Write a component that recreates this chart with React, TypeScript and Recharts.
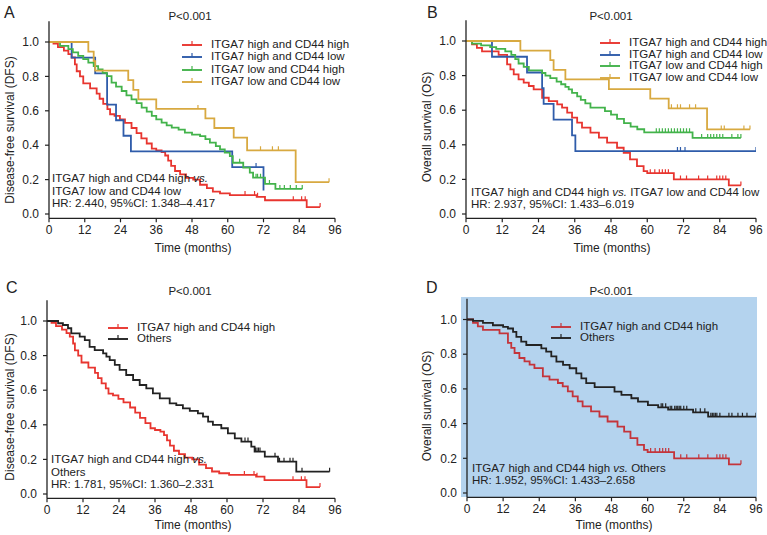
import React from 'react';
import { LineChart, Line, XAxis, YAxis, Legend } from 'recharts';

// ---- DFS, ITGA7 high & CD44 high (panels A and C)
const dfsHHTime = [1.5, 3, 5, 6.5, 7.6, 8.7, 9.3, 10.4, 11.5, 13.8, 16, 17, 18.2, 19.6, 20.5, 22, 23.8, 25.5, 27.7, 29.4, 31, 32.8, 34.5, 36, 37.8, 39, 40, 41, 42.3, 44, 46, 48.4, 50.7, 53, 55, 57.4, 60.7, 69.7, 72.5, 86.5];
const dfsHHSurv = [0.99, 0.97, 0.95, 0.93, 0.91, 0.87, 0.83, 0.8, 0.76, 0.73, 0.7, 0.67, 0.64, 0.61, 0.58, 0.57, 0.55, 0.53, 0.5, 0.47, 0.44, 0.41, 0.38, 0.37, 0.36, 0.34, 0.31, 0.28, 0.25, 0.23, 0.21, 0.2, 0.17, 0.15, 0.13, 0.12, 0.11, 0.1, 0.08, 0.04];
const dfsHHCens = [65.8, 69, 70, 82, 84.8, 86, 91];

// DFS, ITGA7 high & CD44 low
const dfsHLTime = [7.6, 15.5, 19.5, 22.5, 25, 27.5, 61.5, 72];
const dfsHLSurv = [0.909, 0.818, 0.636, 0.545, 0.455, 0.364, 0.273, 0.136];
const dfsHLCens = [69.5];

// DFS, ITGA7 low & CD44 high
const dfsLHTime = [3.7, 6.5, 8, 9.8, 11.5, 13.2, 15, 16.5, 18, 19.4, 21, 22.5, 24.4, 26, 27.7, 29.4, 31.1, 32.8, 34.5, 36, 37.8, 39.5, 41.2, 43.5, 45.6, 48, 50.7, 52.5, 54, 56, 57.4, 59, 60.7, 61.7, 65.2, 67.4, 68.5, 72.5, 76];
const dfsLHSurv = [0.977, 0.958, 0.94, 0.919, 0.9, 0.88, 0.86, 0.841, 0.82, 0.802, 0.764, 0.74, 0.715, 0.69, 0.667, 0.645, 0.618, 0.595, 0.57, 0.55, 0.531, 0.515, 0.502, 0.49, 0.473, 0.462, 0.453, 0.435, 0.415, 0.395, 0.376, 0.357, 0.337, 0.298, 0.27, 0.24, 0.211, 0.175, 0.146];
const dfsLHCens = [64, 69.5, 70, 71, 74, 77.5, 79, 81, 83, 85];

// DFS, ITGA7 low & CD44 low
const dfsLLTime = [13.2, 15, 15.5, 26.6, 28.3, 30, 36, 52.5, 55.5, 62, 66.5, 82.8];
const dfsLLSurv = [0.944, 0.889, 0.833, 0.778, 0.722, 0.667, 0.611, 0.556, 0.5, 0.444, 0.37, 0.185];
const dfsLLCens = [50, 71, 75, 77, 94];

// DFS, others (panel C)
const dfsOtTime = [3.7, 5.3, 7, 8.1, 10.9, 12.6, 14.2, 15.9, 18.7, 19.8, 20.9, 22.6, 24.2, 26.4, 28.7, 30.9, 33.1, 35.3, 37.6, 40.9, 43.1, 45.3, 47.6, 50.3, 52, 53.7, 55.3, 58.1, 60.3, 62.6, 64.8, 68.1, 69.2, 72.6, 77, 83.1];
const dfsOtSurv = [0.987, 0.977, 0.958, 0.929, 0.91, 0.89, 0.851, 0.832, 0.813, 0.794, 0.774, 0.746, 0.717, 0.688, 0.659, 0.63, 0.61, 0.582, 0.553, 0.524, 0.514, 0.495, 0.48, 0.466, 0.447, 0.418, 0.399, 0.38, 0.351, 0.322, 0.303, 0.274, 0.245, 0.216, 0.187, 0.129];
const dfsOtCens = [66, 67, 69.5, 70, 70.5, 71, 76, 77.5, 79, 81, 82, 85, 94.2];

// ---- OS, ITGA7 high & CD44 high (panels B and D)
const osHHTime = [2, 3.6, 5.3, 10.8, 13.6, 14.7, 15.8, 17.4, 19.1, 20.8, 22.4, 25.2, 27.4, 30.2, 31.8, 33.5, 35.1, 36.8, 38.4, 41.2, 44, 46.7, 50, 52.2, 54.3, 56.6, 58.8, 60, 68.8, 87];
const osHHSurv = [0.98, 0.96, 0.94, 0.92, 0.865, 0.836, 0.807, 0.778, 0.759, 0.74, 0.72, 0.672, 0.653, 0.634, 0.615, 0.586, 0.557, 0.528, 0.499, 0.47, 0.441, 0.412, 0.383, 0.354, 0.316, 0.277, 0.248, 0.236, 0.2, 0.165];
const osHHCens = [61, 62.5, 64, 65, 66, 67, 71, 73, 77, 80, 83, 84, 85, 86, 91];

// OS, ITGA7 high & CD44 low
const osHLTime = [8.6, 20.2, 25.2, 25.7, 29, 35.1, 36.2];
const osHLSurv = [0.909, 0.818, 0.727, 0.636, 0.545, 0.455, 0.364];
const osHLCens = [70, 71, 72.5, 96];

// OS, ITGA7 low & CD44 high
const osLHTime = [2, 5, 8, 10, 13, 15, 16.3, 17.4, 19.1, 20.8, 25.2, 26.3, 27.9, 30, 31.5, 32.9, 34, 35.1, 36.8, 38, 39.5, 41.2, 46, 48, 50, 52.3, 54.5, 56.7, 59, 75];
const osLHSurv = [0.985, 0.975, 0.965, 0.955, 0.94, 0.92, 0.895, 0.87, 0.85, 0.83, 0.815, 0.8, 0.785, 0.765, 0.75, 0.735, 0.72, 0.7, 0.68, 0.66, 0.64, 0.615, 0.595, 0.575, 0.55, 0.525, 0.505, 0.49, 0.472, 0.44];
const osLHCens = [63, 64, 65, 66, 67, 68, 69, 70, 71, 72, 73, 74, 78, 80, 81, 82, 83, 84, 85, 88, 90, 91];

// OS, ITGA7 low & CD44 low
const osLLTime = [18, 27.9, 29, 32.9, 47.3, 61, 67.1, 79.8];
const osLLSurv = [0.944, 0.889, 0.833, 0.778, 0.722, 0.667, 0.611, 0.489];
const osLLCens = [68, 70, 71, 74, 76, 84.5, 85.5, 92, 94];

// OS, others (panel D)
const osOtTime = [2, 5.3, 8.6, 12, 13.6, 15.3, 16.4, 18, 19.7, 24.7, 26.3, 28, 29.7, 31.9, 34.1, 36.3, 38, 39.6, 42.4, 49, 51.3, 54.6, 56.8, 60.1, 63.5, 66.8, 75.1, 80.1];
const osOtSurv = [0.992, 0.98, 0.967, 0.958, 0.948, 0.929, 0.9, 0.872, 0.853, 0.834, 0.815, 0.787, 0.757, 0.738, 0.719, 0.69, 0.661, 0.633, 0.61, 0.584, 0.565, 0.546, 0.527, 0.507, 0.494, 0.48, 0.465, 0.44];
const osOtCens = [64.5, 65, 66, 67.5, 68, 69, 69.5, 70, 70.5, 71, 72, 73, 76, 77.5, 79, 81, 81.5, 82, 82.5, 83, 84, 87, 88, 90, 91.5, 93, 96];

const xTicks = [0, 12, 24, 36, 48, 60, 72, 84, 96];
const yTicks = [0, 0.2, 0.4, 0.6, 0.8, 1.0];

const RED = '#e8352f';
const DRED = '#c4343a';
const BLUE = '#2f5caa';
const GREEN = '#43b34b';
const GOLD = '#d8a940';
const BLACK = '#222';
const FONT = '"Liberation Sans", Arial, Helvetica, sans-serif';

type Pt = { t: number; s: number; c?: boolean };

function kmPoints(times: number[], surv: number[], cens: number[]): Pt[] {
  const all = [
    ...times.map((t, i) => ({ t, s: surv[i], c: false })),
    ...cens.map((t) => ({ t, s: 0, c: true })),
  ].sort((a, b) => a.t - b.t);
  const out: Pt[] = [{ t: 0, s: 1 }];
  let cur = 1;
  for (const p of all) {
    if (!p.c) cur = p.s;
    out.push({ t: p.t, s: cur, c: p.c });
  }
  return out;
}

type Series = { name: string; color: string; pts: Pt[] };

const s = (name: string, color: string, t: number[], v: number[], c: number[]): Series => ({
  name,
  color,
  pts: kmPoints(t, v, c),
});

const HH = 'ITGA7 high and CD44 high';
const HL = 'ITGA7 high and CD44 low';
const LH = 'ITGA7 low and CD44 high';
const LL = 'ITGA7 low and CD44 low';

const Y_TOP = 1.12;
const Y_BOT = -0.025;
const XH = 30;
const YW = 40;

const censorDot = (color: string) => (props: any) => {
  const { cx, cy, payload, index } = props;
  if (!payload || !payload.c || cx == null || cy == null) return <g key={`n${index}`} />;
  return <line key={`c${index}`} x1={cx} x2={cx} y1={cy - 4} y2={cy} stroke={color} strokeWidth={1.2} />;
};

interface PanelDef {
  letter: string;
  left: number;
  top: number;
  w: number;
  h: number;
  plotL: number;
  plotR: number;
  zeroY: number;
  oneY: number;
  yTitle: string;
  yTitleX: number;
  yTitleY: number;
  xTitleX: number;
  xTitleY: number;
  letterX: number;
  letterY: number;
  pX: number;
  pY: number;
  legX: number;
  legY: number;
  legRow: number;
  noteX: number;
  noteY: number;
  noteRow: number;
  note: React.ReactNode[];
  series: Series[];
  bg?: string;
}

function Panel({ p }: { p: PanelDef }) {
  const unit = p.zeroY - p.oneY;
  const topY = p.zeroY - Y_TOP * unit;
  const botY = p.zeroY - Y_BOT * unit;
  const margin = {
    top: topY - p.top,
    bottom: p.top + p.h - botY - XH,
    left: p.plotL - p.left - YW,
    right: p.left + p.w - p.plotR,
  };
  const txt: React.CSSProperties = { position: 'absolute', fontFamily: FONT, color: '#222', whiteSpace: 'nowrap', lineHeight: 1 };
  return (
    <>
      {p.bg && (
        <div style={{ position: 'absolute', left: p.plotL - 6, top: topY - 2, width: p.plotR - p.plotL + 7, height: botY - topY + 2, background: p.bg }} />
      )}
      <div style={{ position: 'absolute', left: p.left, top: p.top, width: p.w, height: p.h }}>
        <LineChart width={p.w} height={p.h} margin={margin}>
          <XAxis
            dataKey="t"
            type="number"
            domain={[0, 96]}
            ticks={xTicks}
            allowDataOverflow
            height={XH}
            tickSize={4}
            tickMargin={3}
            axisLine={{ stroke: BLACK, strokeWidth: 1.3 }}
            tickLine={{ stroke: BLACK, strokeWidth: 1.2 }}
            tick={{ fill: '#222', fontSize: 12, fontFamily: FONT }}
          />
          <YAxis
            type="number"
            domain={[Y_BOT, Y_TOP]}
            ticks={yTicks}
            allowDataOverflow
            width={YW}
            tickSize={4}
            tickMargin={6}
            tickFormatter={(v: number) => v.toFixed(1)}
            axisLine={{ stroke: BLACK, strokeWidth: 1.3 }}
            tickLine={{ stroke: BLACK, strokeWidth: 1.2 }}
            tick={{ fill: '#222', fontSize: 12, fontFamily: FONT }}
          />
          <Legend
            layout="vertical"
            align="center"
            verticalAlign="middle"
            wrapperStyle={{ left: p.legX - p.left, top: p.legY - p.top, width: 'auto', height: 'auto' }}
            content={() => (
              <div style={{ fontFamily: FONT, fontSize: 11.5, color: '#222' }}>
                {p.series.map((sr) => (
                  <div key={sr.name} style={{ display: 'flex', alignItems: 'center', height: p.legRow, whiteSpace: 'nowrap' }}>
                    <svg width={20} height={10} style={{ marginRight: 9 }}>
                      <line x1={0} x2={20} y1={6} y2={6} stroke={sr.color} strokeWidth={1.9} />
                      <line x1={10} x2={10} y1={2} y2={6} stroke={sr.color} strokeWidth={1.2} />
                    </svg>
                    <span>{sr.name}</span>
                  </div>
                ))}
              </div>
            )}
          />
          {p.series.map((sr) => (
            <Line
              key={sr.name}
              name={sr.name}
              data={sr.pts}
              dataKey="s"
              type="stepAfter"
              stroke={sr.color}
              strokeWidth={1.8}
              dot={censorDot(sr.color)}
              activeDot={false}
              isAnimationActive={false}
            />
          ))}
        </LineChart>
      </div>
      <div style={{ ...txt, left: p.letterX, top: p.letterY, fontSize: 16 }}>{p.letter}</div>
      <div style={{ ...txt, left: p.pX, top: p.pY, fontSize: 11.5, transform: 'translate(-50%,-50%)' }}>P&lt;0.001</div>
      <div style={{ ...txt, left: p.xTitleX, top: p.xTitleY, fontSize: 12, transform: 'translate(-50%,-50%)' }}>Time (months)</div>
      <div style={{ ...txt, left: p.yTitleX, top: p.yTitleY, fontSize: 12, transform: 'translate(-50%,-50%) rotate(-90deg)' }}>{p.yTitle}</div>
      <div style={{ ...txt, left: p.noteX, top: p.noteY, fontSize: 11.5 }}>
        {p.note.map((n, i) => (
          <div key={i} style={{ height: p.noteRow, lineHeight: `${p.noteRow}px` }}>{n}</div>
        ))}
      </div>
    </>
  );
}

const vs = <i>vs.</i>;

const panels: PanelDef[] = [
  {
    letter: 'A', left: 0, top: 0, w: 384, h: 267, plotL: 49, plotR: 335, zeroY: 214, oneY: 42,
    yTitle: 'Disease-free survival (DFS)', yTitleX: 10, yTitleY: 130, xTitleX: 193, xTitleY: 248,
    letterX: 4, letterY: 5, pX: 190, pY: 17, legX: 182, legY: 38, legRow: 12.3,
    noteX: 52, noteY: 172, noteRow: 12.5,
    note: [<>ITGA7 high and CD44 high {vs}</>, 'ITGA7 low and CD44 low', 'HR: 2.440, 95%CI: 1.348\u20134.417'],
    series: [
      s(HH, RED, dfsHHTime, dfsHHSurv, dfsHHCens),
      s(HL, BLUE, dfsHLTime, dfsHLSurv, dfsHLCens),
      s(LH, GREEN, dfsLHTime, dfsLHSurv, dfsLHCens),
      s(LL, GOLD, dfsLLTime, dfsLLSurv, dfsLLCens),
    ],
  },
  {
    letter: 'B', left: 384, top: 0, w: 383, h: 267, plotL: 466, plotR: 756, zeroY: 214, oneY: 41,
    yTitle: 'Overall survival (OS)', yTitleX: 427, yTitleY: 127, xTitleX: 612, xTitleY: 248,
    letterX: 427, letterY: 5, pX: 611, pY: 17, legX: 600, legY: 36, legRow: 11.7,
    noteX: 471, noteY: 187, noteRow: 11.5,
    note: [<>ITGA7 high and CD44 high {vs} ITGA7 low and CD44 low</>, 'HR: 2.937, 95%CI: 1.433\u20136.019'],
    series: [
      s(HH, RED, osHHTime, osHHSurv, osHHCens),
      s(HL, BLUE, osHLTime, osHLSurv, osHLCens),
      s(LH, GREEN, osLHTime, osLHSurv, osLHCens),
      s(LL, GOLD, osLLTime, osLLSurv, osLLCens),
    ],
  },
  {
    letter: 'C', left: 0, top: 267, w: 384, h: 268, plotL: 47, plotR: 335, zeroY: 494, oneY: 321,
    yTitle: 'Disease-free survival (DFS)', yTitleX: 10, yTitleY: 407, xTitleX: 193, xTitleY: 525,
    letterX: 6, letterY: 280, pX: 190, pY: 292, legX: 108, legY: 322, legRow: 10.8,
    noteX: 51, noteY: 453, noteRow: 12.5,
    note: [<>ITGA7 high and CD44 high {vs}</>, 'Others', 'HR: 1.781, 95%CI: 1.360\u20132.331'],
    series: [
      s(HH, RED, dfsHHTime, dfsHHSurv, dfsHHCens),
      s('Others', BLACK, dfsOtTime, dfsOtSurv, dfsOtCens),
    ],
  },
  {
    letter: 'D', left: 384, top: 267, w: 383, h: 268, plotL: 467, plotR: 756, zeroY: 493, oneY: 319.5,
    yTitle: 'Overall survival (OS)', yTitleX: 427, yTitleY: 406, xTitleX: 614, xTitleY: 525,
    letterX: 426, letterY: 280, pX: 611, pY: 292, legX: 551, legY: 320, legRow: 11.5,
    noteX: 472, noteY: 463, noteRow: 11.5,
    note: [<>ITGA7 high and CD44 high {vs} Others</>, 'HR: 1.952, 95%CI: 1.433\u20132.658'],
    bg: '#b4d3ee',
    series: [
      s(HH, DRED, osHHTime, osHHSurv, osHHCens),
      s('Others', BLACK, osOtTime, osOtSurv, osOtCens),
    ],
  },
];

export default function App() {
  return (
    <div style={{ position: 'absolute', left: 0, top: 0, width: 767, height: 535, background: '#fff', overflow: 'hidden' }}>
      {panels.map((p) => (
        <Panel key={p.letter} p={p} />
      ))}
    </div>
  );
}
